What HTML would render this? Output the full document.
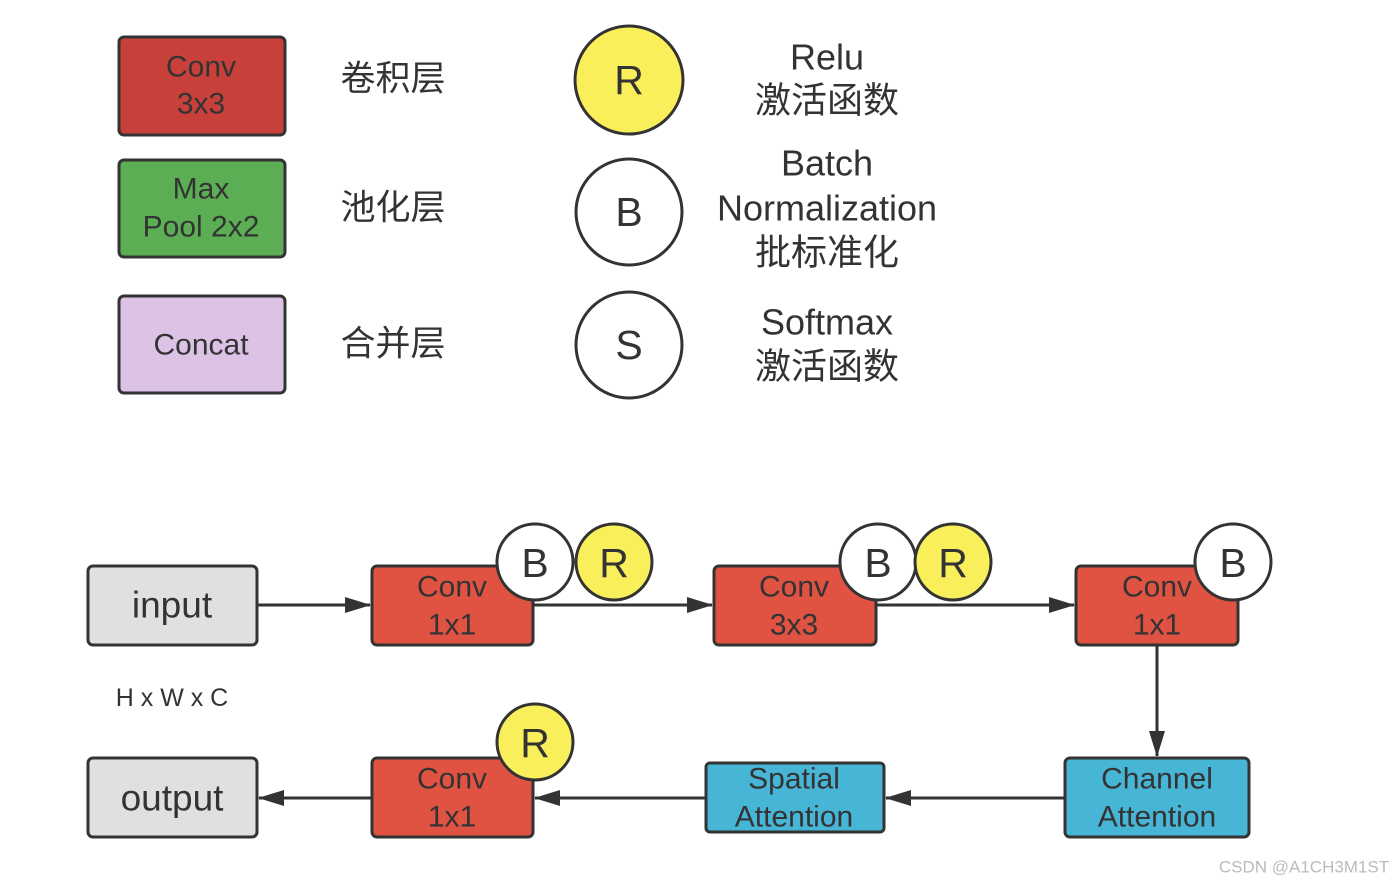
<!DOCTYPE html>
<html><head><meta charset="utf-8"><style>
body{margin:0;background:#fff;width:1400px;height:884px;overflow:hidden}
text{font-family:"Liberation Sans","Noto Sans CJK SC",sans-serif;fill:#333;text-anchor:middle;dominant-baseline:central}
</style></head><body>
<svg width="1400" height="884" viewBox="0 0 1400 884">
<defs>
<marker id="b" markerWidth="26" markerHeight="20" refX="25" refY="8" orient="auto" markerUnits="userSpaceOnUse"><path d="M0,0 L26,8 L0,16 Z" fill="#333"/></marker></defs>
<g stroke="#333" stroke-width="3">
<rect x="119" y="37" width="166" height="98" rx="5" fill="#c8403a"/>
<rect x="119" y="160" width="166" height="97" rx="5" fill="#5cae55"/>
<rect x="119" y="296" width="166" height="97" rx="5" fill="#dcc2e5"/>
<circle cx="629" cy="80" r="54" fill="#f8ef5a"/>
<circle cx="629" cy="212" r="53" fill="#fff"/>
<circle cx="629" cy="345" r="53" fill="#fff"/>
</g>
<g font-size="30"><text x="201" y="67">Conv</text><text x="201" y="104">3x3</text>
<text x="201" y="189">Max</text><text x="201" y="227">Pool 2x2</text>
<text x="201" y="345">Concat</text></g>
<g font-size="35"><text x="393" y="79">卷积层</text><text x="393" y="208">池化层</text><text x="393" y="344">合并层</text>
<text x="629" y="80" font-size="41">R</text><text x="629" y="212" font-size="41">B</text><text x="629" y="345" font-size="41">S</text></g>
<g font-size="36"><text x="827" y="57">Relu</text><text x="827" y="100">激活函数</text>
<text x="827" y="163">Batch</text><text x="827" y="208">Normalization</text><text x="827" y="252">批标准化</text>
<text x="827" y="322">Softmax</text><text x="827" y="366">激活函数</text></g>

<g stroke="#333" stroke-width="3" fill="none">
<line x1="257" y1="605" x2="370" y2="605" marker-end="url(#b)"/>
<line x1="533" y1="605" x2="712" y2="605" marker-end="url(#b)"/>
<line x1="876" y1="605" x2="1074" y2="605" marker-end="url(#b)"/>
<line x1="1157" y1="645" x2="1157" y2="756" marker-end="url(#b)"/>
<line x1="1065" y1="798" x2="886" y2="798" marker-end="url(#b)"/>
<line x1="706" y1="798" x2="535" y2="798" marker-end="url(#b)"/>
<line x1="372" y1="798" x2="259" y2="798" marker-end="url(#b)"/>
</g>
<g stroke="#333" stroke-width="3">
<rect x="88" y="566" width="169" height="79" rx="5" fill="#e0e0e0"/>
<rect x="372" y="566" width="161" height="79" rx="5" fill="#e05242"/>
<rect x="714" y="566" width="162" height="79" rx="5" fill="#e05242"/>
<rect x="1076" y="566" width="162" height="79" rx="5" fill="#e05242"/>
<rect x="88" y="758" width="169" height="79" rx="5" fill="#e0e0e0"/>
<rect x="372" y="758" width="161" height="79" rx="5" fill="#e05242"/>
<rect x="706" y="763" width="178" height="69" rx="4" fill="#47b5d5"/>
<rect x="1065" y="758" width="184" height="79" rx="5" fill="#47b5d5"/>
<circle cx="535" cy="562" r="38" fill="#fff"/><circle cx="614" cy="562" r="38" fill="#f8ef5a"/>
<circle cx="878" cy="562" r="38" fill="#fff"/><circle cx="953" cy="562" r="38" fill="#f8ef5a"/>
<circle cx="1233" cy="562" r="38" fill="#fff"/>
<circle cx="535" cy="742" r="38" fill="#f8ef5a"/>
</g>
<g font-size="30">
<text x="452" y="587">Conv</text><text x="452" y="625">1x1</text>
<text x="794" y="587">Conv</text><text x="794" y="625">3x3</text>
<text x="1157" y="587">Conv</text><text x="1157" y="625">1x1</text>
<text x="452" y="779">Conv</text><text x="452" y="817">1x1</text>
<text x="794" y="779">Spatial</text><text x="794" y="817">Attention</text>
<text x="1157" y="779">Channel</text><text x="1157" y="817">Attention</text>
</g>
<g font-size="37"><text x="172" y="605">input</text><text x="172" y="798">output</text></g>
<g font-size="41"><text x="535" y="563">B</text><text x="614" y="563">R</text><text x="878" y="563">B</text><text x="953" y="563">R</text><text x="1233" y="563">B</text><text x="535" y="743">R</text></g>
<text x="172" y="698" font-size="25">H x W x C</text>
<text x="1304" y="867" font-size="17" style="fill:#bbb">CSDN @A1CH3M1ST</text>
</svg>
</body></html>
